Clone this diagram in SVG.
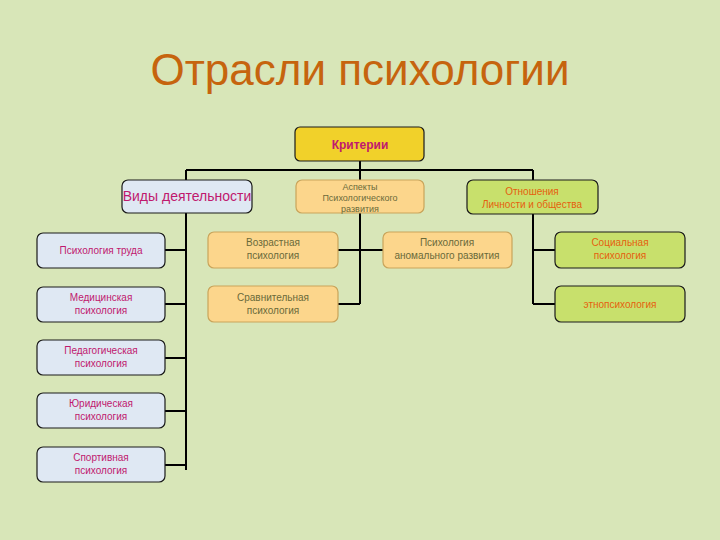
<svg xmlns="http://www.w3.org/2000/svg" width="720" height="540" viewBox="0 0 720 540">
<style>
text{font-family:"Liberation Sans",Arial,sans-serif;text-anchor:middle}
.blue rect{fill:#dfe8f3;stroke:#1a1a1a;stroke-width:1.2}
.blue text{fill:#c0186e;font-size:10px}
.peach rect{fill:#fcd68c;stroke:#c9a45a;stroke-width:1.2}
.peach text{fill:#6a6a3a;font-size:10px}
.lime rect{fill:#c8e06c;stroke:#1a1a1a;stroke-width:1.2}
.lime text{fill:#e5600e;font-size:10px}
.conn{fill:none;stroke:#000;stroke-width:2}
</style>
<rect x="0" y="0" width="720" height="540" fill="#d8e6b8"/>
<text x="360" y="85" style="font-size:44px;fill:#c6640e">Отрасли психологии</text>
<g id="connectors" class="conn">
<path d="M360 161V170M186 170H533"/>
<path d="M186 170V470M165 250H186M165 304H186M165 358H186M165 411H186M165 465H186"/>
<path d="M360 170V304M338 250H360M338 304H360M360 250H383"/>
<path d="M533 170V304M533 250H555M533 304H555"/>
</g>
<g id="kriterii"><rect x="295" y="127" width="129" height="34" rx="5" fill="#f1d12a" stroke="#1a1a1a" stroke-width="1.2"/><text x="360" y="149" style="font-size:12px;font-weight:bold;fill:#c0186e">Критерии</text></g>
<g id="vidy" class="blue"><rect x="122" y="180" width="130" height="33" rx="6"/><text x="187" y="201" style="font-size:14px">Виды деятельности</text></g>
<g id="aspekty" class="peach"><rect x="296" y="180" width="128" height="33" rx="6"/><text x="360" y="190" style="font-size:9px">Аспекты</text><text x="360" y="201" style="font-size:9px">Психологического</text><text x="360" y="212" style="font-size:9px">развития</text></g>
<g id="otnosheniya" class="lime"><rect x="467" y="180" width="131" height="34" rx="6"/><text x="532" y="195">Отношения</text><text x="532" y="208">Личности и общества</text></g>
<g id="trud" class="blue"><rect x="37" y="233" width="128" height="35" rx="6"/><text x="101" y="254">Психология труда</text></g>
<g id="med" class="blue"><rect x="37" y="287" width="128" height="35" rx="6"/><text x="101" y="301">Медицинская</text><text x="101" y="314">психология</text></g>
<g id="ped" class="blue"><rect x="37" y="340" width="128" height="35" rx="6"/><text x="101" y="354">Педагогическая</text><text x="101" y="367">психология</text></g>
<g id="yur" class="blue"><rect x="37" y="393" width="128" height="35" rx="6"/><text x="101" y="407">Юридическая</text><text x="101" y="420">психология</text></g>
<g id="sport" class="blue"><rect x="37" y="447" width="128" height="35" rx="6"/><text x="101" y="461">Спортивная</text><text x="101" y="474">психология</text></g>
<g id="vozr" class="peach"><rect x="208" y="232" width="130" height="36" rx="6"/><text x="273" y="246">Возрастная</text><text x="273" y="259">психология</text></g>
<g id="srav" class="peach"><rect x="208" y="286" width="130" height="36" rx="6"/><text x="273" y="301">Сравнительная</text><text x="273" y="314">психология</text></g>
<g id="anom" class="peach"><rect x="383" y="232" width="129" height="36" rx="6"/><text x="447" y="246">Психология</text><text x="447" y="259">аномального развития</text></g>
<g id="soc" class="lime"><rect x="555" y="232" width="130" height="36" rx="6"/><text x="620" y="246">Социальная</text><text x="620" y="259">психология</text></g>
<g id="etno" class="lime"><rect x="555" y="286" width="130" height="36" rx="6"/><text x="620" y="308">этнопсихология</text></g>
</svg>
